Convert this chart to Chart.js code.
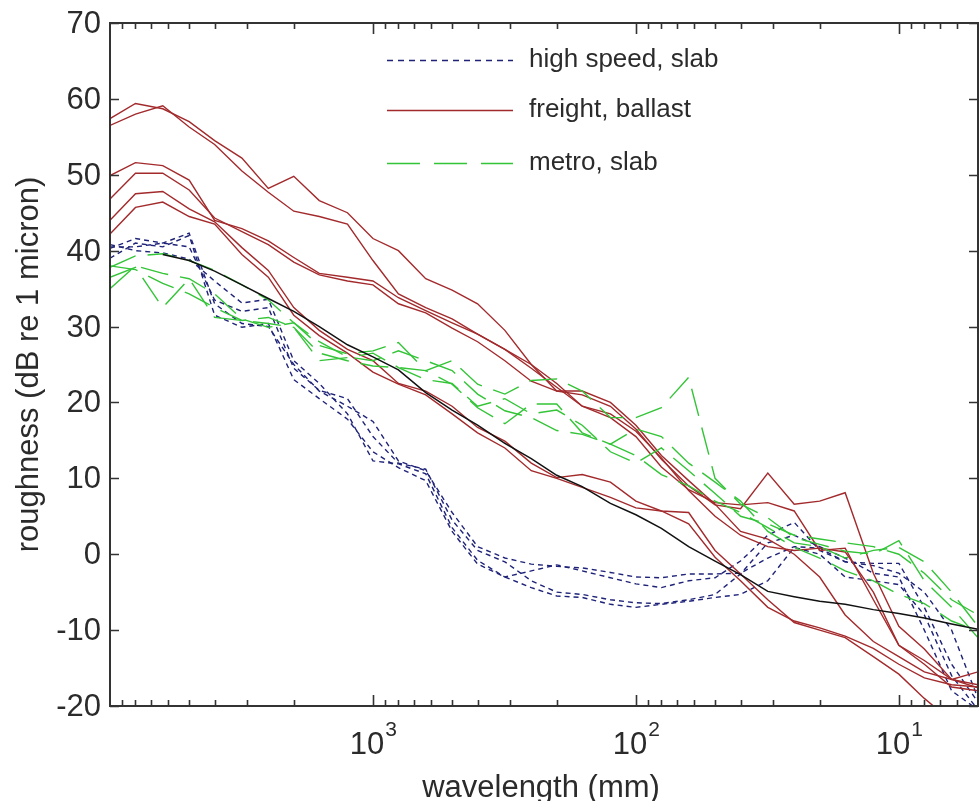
<!DOCTYPE html>
<html>
<head>
<meta charset="utf-8">
<script src="https://cdn.jsdelivr.net/npm/chart.js@4/dist/chart.umd.min.js"></script>
<style>
html,body{margin:0;padding:0;background:#fff;}
canvas{display:block;}
</style>
</head>
<body>
<canvas id="c" width="979" height="801" style="width:979px;height:801px"></canvas>
<script>
// wavelengths (mm), 1/3-octave bands
const wavelengths = [10000, 8000, 6300, 5000, 4000, 3150, 2500, 2000, 1600, 1250, 1000, 800, 630, 500, 400, 315, 250, 200, 160, 125, 100, 80, 63, 50, 40, 31.5, 25, 20, 16, 12.5, 10, 8, 6.3, 5];

// high speed, slab (dB re 1 micron)
const highSpeed1 = [40.3,41.6,41.0,42.3,33.0,30.4,30.0,25.0,21.5,19.5, 17.5,12.3,11.0,5.5,1.0,-0.5,-1.3,-1.6,-1.8,-2.4, -3.0,-3.1,-2.6,-2.6,-2.5,-0.5,1.0,0.8,-1.0,-1.2, -1.2,-7.0,-14.5,-19.5];
const highSpeed2 = [40.8,40.0,39.7,38.9,36.0,33.1,33.6,25.5,22.5,18.5, 12.3,11.9,10.6,3.5,-0.8,-3.0,-2.2,-1.4,-2.2,-3.1, -3.9,-4.4,-3.5,-3.1,-0.9,2.5,4.2,0.5,-1.0,-1.5, -2.5,-5.0,-10.0,-19.0];
const highSpeed3 = [39.0,41.0,40.5,42.0,31.5,29.9,30.4,23.0,20.5,17.8, 13.5,11.4,9.7,3.0,-1.3,-3.0,-4.4,-5.5,-5.7,-6.6, -7.0,-6.6,-6.2,-5.7,-5.3,-3.5,0.9,0.0,-3.0,-3.5, -4.0,-8.0,-16.0,-20.5];
const highSpeed4 = [40.5,40.5,41.0,40.5,33.5,32.0,32.5,24.5,21.6,20.5, 15.5,12.0,11.2,4.5,0.5,-1.0,-3.5,-5.0,-5.3,-6.0, -6.4,-6.5,-6.0,-5.3,-2.6,1.5,2.5,1.0,-0.5,-2.5, -3.0,-10.0,-18.0,-20.5];

// freight, ballast
const freight1 = [57.4,59.4,58.7,57.0,54.5,52.2,48.2,49.8,46.6,45.0, 41.6,40.0,36.3,34.8,33.0,29.5,25.0,21.5,21.0,19.5, 16.5,12.5,9.0,6.5,6.0,10.7,6.6,7.0,8.1,-2.5, -9.5,-12.5,-16.5,-17.6];
const freight2 = [56.5,58.0,59.1,56.3,54.0,50.5,47.7,45.2,44.5,43.5, 38.7,34.3,32.5,31.0,29.0,27.0,24.5,22.0,19.5,18.0, 15.5,11.5,8.5,6.8,6.5,6.8,5.7,0.5,0.8,-6.0, -12.0,-14.5,-17.5,-18.0];
const freight3 = [49.9,51.6,51.2,49.3,44.0,42.9,41.3,39.1,37.0,36.5, 36.0,33.8,32.1,30.5,29.0,27.0,25.0,22.5,19.5,18.5, 16.2,12.7,8.4,5.0,2.5,1.0,0.5,0.8,0.3,-5.0, -12.0,-14.0,-16.5,-17.2];
const freight4 = [46.8,50.2,50.2,48.0,44.3,42.5,40.8,38.5,36.8,36.0, 35.5,33.0,31.8,29.8,28.0,25.5,22.8,21.5,21.5,20.0, 17.0,13.0,9.7,6.6,3.0,2.0,0.0,-3.0,-8.0,-11.5, -13.5,-15.5,-16.5,-15.5];
const freight5 = [44.0,47.5,47.8,45.5,43.8,40.4,37.4,32.5,29.5,27.0, 25.5,22.5,21.5,19.5,16.7,14.9,12.0,10.1,10.5,9.5, 7.0,5.7,5.5,0.5,-2.6,-6.0,-9.0,-10.0,-11.0,-13.5, -15.8,-19.0,-22.0,-24.0];
const freight6 = [42.2,45.7,46.4,44.5,43.5,39.5,36.5,31.5,28.8,26.5, 24.0,22.4,21.0,18.5,16.0,14.0,11.0,10.0,8.8,7.5, 6.1,5.7,4.0,-0.4,-3.5,-7.0,-8.8,-9.7,-10.8,-12.4, -14.5,-16.3,-17.2,-17.5];

// metro, slab
const metro1 = [37.8,39.3,39.6,38.7,37.4,35.5,33.5,30.5,27.5,26.4, 26.8,27.9,24.2,25.5,22.4,21.1,22.9,23.1,21.5,18.0, 18.0,19.3,23.3,10.0,6.6,4.8,2.2,1.3,0.4,0.0, 1.8,-3.5,-7.0,-11.0];
const metro2 = [36.5,37.8,32.5,36.3,31.2,30.8,30.4,29.9,26.5,25.5, 24.8,24.6,24.2,22.4,19.3,17.2,19.8,19.8,16.0,14.5, 16.5,15.5,12.0,9.5,7.0,3.0,0.9,-0.5,-2.2,-3.5, -5.3,-6.5,-8.8,-10.1];
const metro3 = [35.0,38.0,37.0,36.3,34.3,31.0,29.9,30.5,28.0,26.0, 25.5,26.8,25.5,24.2,21.1,18.9,18.0,16.3,15.8,14.5, 13.0,10.5,9.0,7.0,5.5,3.5,1.5,1.0,-0.5,0.5, 0.9,-1.0,-5.0,-9.5];
const metro4 = [38.0,37.5,35.7,34.3,32.5,30.8,31.2,29.9,25.5,25.9, 26.5,24.6,23.0,22.5,19.5,20.5,18.5,19.0,17.0,13.5, 12.0,14.0,11.0,8.0,5.0,4.0,2.5,2.0,1.5,1.0, 0.0,-2.5,-6.0,-8.0];

// reference (limit) spectrum
const limitCurve = [null,null,39.5,38.7,37.3,35.5,33.7,32.0,30.0,27.6, 26.0,24.3,21.3,19.0,17.0,14.6,12.6,10.4,8.9,6.7, 5.2,3.4,1.0,-0.9,-2.7,-4.9,-5.6,-6.2,-6.6,-7.3, -7.8,-8.4,-9.2,-9.9];

// ticks and labels
const yTicks = [-20,-10,0,10,20,30,40,50,60,70];
const xMajorTicks = [1000, 100, 10];
const xTickExponents = ['3', '2', '1'];
const xLabel = 'wavelength (mm)';
const yLabel = 'roughness (dB re 1 micron)';
const legendLabels = ['high speed, slab', 'freight, ballast', 'metro, slab'];

const BLUE = '#1f2378', RED = '#a32a2c', GREEN = '#33c437', BLACK = '#111111';
const BLUE_DASH = [5, 4], GREEN_DASH = [28, 12];

function series(arr, color, dash, w) {
  return {
    data: wavelengths.map((x, i) => ({x: x, y: arr[i]})),
    borderColor: color, borderWidth: w || 1.4, borderDash: dash || [],
    pointRadius: 0, fill: false, tension: 0, spanGaps: false
  };
}

const datasets = [
  series(limitCurve, BLACK, [], 1.5),
  series(metro1, GREEN, GREEN_DASH), series(metro2, GREEN, GREEN_DASH),
  series(metro3, GREEN, GREEN_DASH), series(metro4, GREEN, GREEN_DASH),
  series(freight1, RED), series(freight2, RED), series(freight3, RED),
  series(freight4, RED), series(freight5, RED), series(freight6, RED),
  series(highSpeed1, BLUE, BLUE_DASH), series(highSpeed2, BLUE, BLUE_DASH),
  series(highSpeed3, BLUE, BLUE_DASH), series(highSpeed4, BLUE, BLUE_DASH)
];

const FONT = '"Liberation Sans", Arial, sans-serif';
const TXT = '#2b2b2b';

const framePlugin = {
  id: 'frame',
  afterDraw(chart) {
    const {ctx, chartArea: a, scales: {x, y}} = chart;
    ctx.save();
    ctx.strokeStyle = '#333';
    ctx.lineWidth = 2;
    ctx.setLineDash([]);
    ctx.strokeRect(a.left, a.top, a.right - a.left, a.bottom - a.top);
    ctx.lineWidth = 1.6;
    // y ticks
    ctx.fillStyle = TXT;
    ctx.font = '31px ' + FONT;
    ctx.textAlign = 'right';
    ctx.textBaseline = 'middle';
    yTicks.forEach(v => {
      const py = Math.round(y.getPixelForValue(v)) + 0.5;
      ctx.beginPath();
      ctx.moveTo(a.left, py); ctx.lineTo(a.left + 9, py);
      ctx.moveTo(a.right, py); ctx.lineTo(a.right - 9, py);
      ctx.stroke();
      ctx.fillText(String(v), 101, py + 1);
    });
    // x ticks (major + minor)
    [1, 10, 100, 1000].forEach(dec => {
      for (let m = 1; m <= 9; m++) {
        const v = m * dec;
        if (v < 5 || v > 10000) continue;
        const px = Math.round(x.getPixelForValue(v)) + 0.5;
        const len = m === 1 ? 11 : 6;
        ctx.beginPath();
        ctx.moveTo(px, a.bottom); ctx.lineTo(px, a.bottom - len);
        ctx.moveTo(px, a.top); ctx.lineTo(px, a.top + len);
        ctx.stroke();
      }
    });
    // x tick labels 10^n
    xMajorTicks.forEach((v, i) => {
      const px = x.getPixelForValue(v);
      ctx.font = '31px ' + FONT;
      const wBase = ctx.measureText('10').width;
      ctx.font = '21px ' + FONT;
      const wExp = ctx.measureText(xTickExponents[i]).width;
      const left = px - (wBase + wExp) / 2;
      ctx.textAlign = 'left';
      ctx.textBaseline = 'alphabetic';
      ctx.font = '31px ' + FONT;
      ctx.fillText('10', left, 754);
      ctx.font = '21px ' + FONT;
      ctx.fillText(xTickExponents[i], left + wBase + 1, 736);
    });
    // axis titles
    ctx.font = '31px ' + FONT;
    ctx.textAlign = 'center';
    ctx.textBaseline = 'alphabetic';
    ctx.fillText(xLabel, (a.left + a.right) / 2 - 3, 797);
    ctx.save();
    ctx.translate(38, (a.top + a.bottom) / 2);
    ctx.rotate(-Math.PI / 2);
    ctx.fillText(yLabel, 0, 0);
    ctx.restore();
    // legend
    const rows = [
      {c: BLUE, d: [6, 5], yy: 60},
      {c: RED, d: [], yy: 110},
      {c: GREEN, d: [33, 14], yy: 163}
    ];
    rows.forEach((r, i) => {
      ctx.strokeStyle = r.c;
      ctx.lineWidth = 1.5;
      ctx.setLineDash(r.d);
      ctx.beginPath();
      ctx.moveTo(387, r.yy + 0.5); ctx.lineTo(513, r.yy + 0.5);
      ctx.stroke();
      ctx.setLineDash([]);
      ctx.fillStyle = TXT;
      ctx.font = '26px ' + FONT;
      ctx.textAlign = 'left';
      ctx.textBaseline = 'middle';
      ctx.fillText(legendLabels[i], 529, r.yy);
    });
    ctx.restore();
  }
};

new Chart(document.getElementById('c'), {
  type: 'line',
  data: {datasets: datasets},
  options: {
    responsive: false,
    animation: false,
    devicePixelRatio: 1,
    layout: {padding: {left: 110, right: 1, top: 23, bottom: 95}},
    plugins: {legend: {display: false}, tooltip: {enabled: false}},
    elements: {point: {radius: 0}, line: {tension: 0}},
    scales: {
      x: {type: 'logarithmic', reverse: true, min: 5, max: 10000, display: false},
      y: {type: 'linear', min: -20, max: 70, display: false}
    }
  },
  plugins: [framePlugin]
});
</script>
</body>
</html>
